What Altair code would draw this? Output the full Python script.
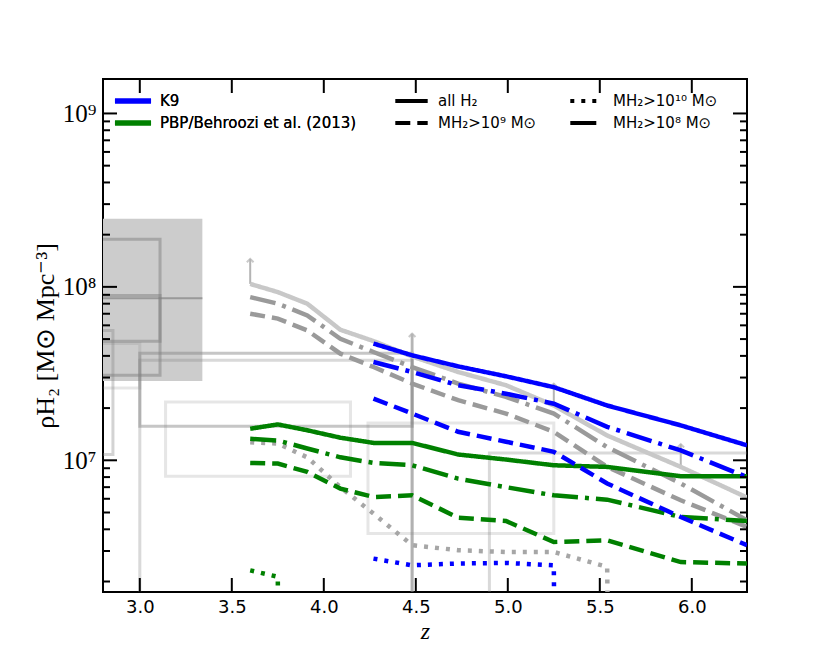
import altair as alt
import pandas as pd

# ---------------- axes ----------------
X_DOMAIN = [2.8, 6.3]
Y_DOMAIN = [1.74e6, 1.58e9]
X_TICKS = [3.0, 3.5, 4.0, 4.5, 5.0, 5.5, 6.0]
Y_MAJOR = [1e7, 1e8, 1e9]
Y_MINOR = [2e6, 3e6, 4e6, 5e6, 6e6, 7e6, 8e6, 9e6,
           2e7, 3e7, 4e7, 5e7, 6e7, 7e7, 8e7, 9e7,
           2e8, 3e8, 4e8, 5e8, 6e8, 7e8, 8e8, 9e8]

# ---------------- model lines ----------------
Z_SNAP = [3.60, 3.75, 3.91, 4.09, 4.27, 4.48, 4.73, 4.99, 5.25, 5.54, 5.94, 6.30]
Z_K9 = [4.27, 4.48, 4.73, 4.99, 5.25, 5.54, 5.94, 6.30]

K9_ALL = [4.71e7, 4.03e7, 3.48e7, 3.05e7, 2.64e7, 2.07e7, 1.59e7, 1.22e7]
K9_M8 = [3.69e7, 3.23e7, 2.71e7, 2.42e7, 2.12e7, 1.56e7, 1.14e7, 8.0e6]
K9_M9 = [2.27e7, 1.86e7, 1.46e7, 1.28e7, 1.12e7, 7.35e6, 4.71e6, 3.24e6]
K9_M10 = [2.71e6, 2.48e6, 2.54e6, 2.56e6, 2.48e6, 0.0, 0.0, 0.0]

PBP_ALL = [1.52e7, 1.61e7, 1.49e7, 1.35e7, 1.26e7, 1.26e7, 1.08e7, 1.01e7, 9.36e6, 9.16e6, 8.09e6, 8.09e6]
PBP_M8 = [1.33e7, 1.30e7, 1.17e7, 1.04e7, 9.66e6, 9.36e6, 7.84e6, 7.0e6, 6.28e6, 5.93e6, 4.71e6, 4.47e6]
PBP_M9 = [9.66e6, 9.57e6, 8.57e6, 6.87e6, 6.14e6, 6.28e6, 4.67e6, 4.47e6, 3.38e6, 3.46e6, 2.59e6, 2.54e6]
PBP_M10 = [2.32e6, 2.13e6, 0.0, 0.0, 0.0, 0.0, 0.0, 0.0, 0.0, 0.0, 0.0, 0.0]

GRAY_ALL = [1.04e8, 9.33e7, 8.0e7, 5.66e7, 4.87e7, 3.97e7, 3.23e7, 2.71e7, 2.07e7, 1.39e7, 9.16e6, 6.1e6]
GRAY_M8 = [8.73e7, 8.0e7, 6.85e7, 5.02e7, 4.21e7, 3.45e7, 2.77e7, 2.32e7, 1.86e7, 1.19e7, 7.35e6, 4.51e6]
GRAY_M9 = [7.0e7, 6.56e7, 5.61e7, 4.12e7, 3.45e7, 2.77e7, 2.22e7, 1.86e7, 1.46e7, 9.16e6, 5.88e6, 4.13e6]
GRAY_M10 = [1.27e7, 1.25e7, 1.04e7, 7.0e6, 4.93e6, 3.24e6, 3.03e6, 2.96e6, 2.96e6, 2.43e6, 0.0, 0.0]

# lower-limit arrows on the grey model
ARROW_Z = [3.60, 4.48, 5.25, 5.94]
ARROW_BASE = [1.04e8, 3.97e7, 2.07e7, 9.16e6]
ARROW_TIP = [1.45e8, 5.37e7, 2.77e7, 1.24e7]

# ---------------- observational boxes ----------------
FILL_Z1, FILL_Z2 = [2.60], [3.34]
FILL_LO, FILL_HI, FILL_MID = [2.87e7], [2.47e8], [8.6e7]

BOX_Z1 = [2.60, 2.60, 2.60, 2.60, 3.00, 3.00, 3.14, 4.24, 4.90]
BOX_Z2 = [3.11, 3.11, 2.854, 3.00, 4.48, 4.48, 4.145, 5.25, 6.50]
BOX_LO = [4.85e7, 3.09e7, 1.08e7, 2.61e7, 1.57e7, 1.0e6, 8.09e6, 3.78e6, 1.0e6]
BOX_HI = [1.88e8, 8.93e7, 5.6e7, 4.71e7, 4.14e7, 3.77e7, 2.17e7, 1.64e7, 1.10e7]
BOX_OP = [0.5, 0.5, 0.35, 0.2, 0.45, 0.3, 0.2, 0.2, 0.3]

VLINE_Z, VLINE_LO, VLINE_HI = [4.48], [1.0e6], [5.37e7]

# ---------------- labels ----------------
L_ALL = "all H₂"
L_M9 = "MH₂>10⁹ M⊙"
L_M10 = "MH₂>10¹⁰ M⊙"
L_M8 = "MH₂>10⁸ M⊙"
SEL_ORDER = [L_ALL, L_M9, L_M10, L_M8]
DASHES = [[1, 0], [15, 7], [4, 7], [26, 7, 4, 7]]
M_K9 = "K9"
M_PBP = "PBP/Behroozi et al. (2013)"

W, H = 644, 513

rows = []
def add(model, sel, shade, zs, vals):
    for i, (z, v) in enumerate(zip(zs, vals)):
        # like matplotlib's log-scale clipping of non-positive values
        rows.append(dict(model=model, sel=sel, shade=shade, z=z,
                         rho=v if v > 0 else 1e-30, i=i))
        if v <= 0:
            break

add(M_K9, L_ALL, "blue", Z_K9, K9_ALL)
add(M_K9, L_M8, "blue", Z_K9, K9_M8)
add(M_K9, L_M9, "blue", Z_K9, K9_M9)
add(M_K9, L_M10, "blue", Z_K9, K9_M10)
add(M_PBP, L_ALL, "green", Z_SNAP, PBP_ALL)
add(M_PBP, L_M8, "green", Z_SNAP, PBP_M8)
add(M_PBP, L_M9, "green", Z_SNAP, PBP_M9)
add(M_PBP, L_M10, "green", Z_SNAP, PBP_M10)
add("grey", L_ALL, "#c8c8c8", Z_SNAP, GRAY_ALL)
add("grey", L_M8, "#9a9a9a", Z_SNAP, GRAY_M8)
add("grey", L_M9, "#9a9a9a", Z_SNAP, GRAY_M9)
add("grey", L_M10, "#a6a6a6", Z_SNAP, GRAY_M10)
lines = pd.DataFrame(rows)

xs = alt.Scale(domain=X_DOMAIN, nice=False, zero=False)
ys = alt.Scale(type="log", domain=Y_DOMAIN, nice=False)

XA = alt.Axis(values=X_TICKS, format=".1f", ticks=False, domain=False, grid=False,
              labelFont="DejaVu Sans", labelFontSize=18, labelPadding=6, labelColor="black",
              title="z", titleFont="Liberation Serif", titleFontStyle="italic",
              titleFontSize=24, titleFontWeight="normal", titlePadding=3, titleColor="black")
YA = alt.Axis(values=Y_MAJOR, ticks=False, domain=False, grid=False,
              labelExpr="datum.value > 5e8 ? '10⁹' : datum.value > 5e7 ? '10⁸' : '10⁷'",
              labelFont="Liberation Serif", labelFontSize=25, labelPadding=7, labelColor="black",
              title="ρH₂ [M⊙ Mpc⁻³]", titleFont="Liberation Serif", titleFontSize=26,
              titleFontWeight="normal", titlePadding=4, titleColor="black")

def X(f):
    return alt.X(f, scale=xs, axis=XA)
def Y(f):
    return alt.Y(f, scale=ys, axis=YA)

fill_df = pd.DataFrame(dict(z1=FILL_Z1, z2=FILL_Z2, lo=FILL_LO, hi=FILL_HI, mid=FILL_MID))
fill = alt.Chart(fill_df).mark_rect(fill="#cccccc", clip=True).encode(
    x=X("z1:Q"), x2="z2:Q", y=Y("lo:Q"), y2="hi:Q")
fill_mid = alt.Chart(fill_df).mark_rule(color="#999999", strokeWidth=2, clip=True).encode(
    x=X("z1:Q"), x2="z2:Q", y=Y("mid:Q"))

box_df = pd.DataFrame(dict(z1=BOX_Z1, z2=BOX_Z2, lo=BOX_LO, hi=BOX_HI, op=BOX_OP))
boxes = alt.Chart(box_df).mark_rect(filled=False, stroke="#808080", strokeWidth=3, clip=True).encode(
    x=X("z1:Q"), x2="z2:Q", y=Y("lo:Q"), y2="hi:Q",
    strokeOpacity=alt.StrokeOpacity("op:Q", scale=None))

vline_df = pd.DataFrame(dict(z=VLINE_Z, lo=VLINE_LO, hi=VLINE_HI))
vline = alt.Chart(vline_df).mark_rule(color="#808080", opacity=0.45, strokeWidth=3, clip=True).encode(
    x=X("z:Q"), y=Y("lo:Q"), y2="hi:Q")

arrow_df = pd.DataFrame(dict(z=ARROW_Z, base=ARROW_BASE, tip=ARROW_TIP))
arrow_stem = alt.Chart(arrow_df).mark_rule(color="#b4b4b4", strokeWidth=2, clip=True).encode(
    x=X("z:Q"), y=Y("base:Q"), y2="tip:Q")
arrow_head = alt.Chart(arrow_df).mark_point(shape="M-1,1L0,0L1,1", size=45, filled=False,
                                            stroke="#b4b4b4", strokeWidth=2, clip=True).encode(
    x=X("z:Q"), y=Y("tip:Q"))

dash_enc = alt.StrokeDash("sel:N", scale=alt.Scale(domain=SEL_ORDER, range=DASHES),
                          legend=alt.Legend(orient="none", legendX=290, legendY=11, columns=2,
                                            columnPadding=31, rowPadding=0, padding=0,
                                            clipHeight=22,
                                            symbolType="stroke", symbolSize=1050,
                                            symbolStrokeWidth=4, symbolStrokeColor="black",
                                            labelFont="DejaVu Sans", labelFontSize=15,
                                            labelFontWeight="normal", labelLimit=400,
                                            labelColor="black", labelOffset=8, title=None))
color_enc = alt.Stroke("model:N", scale=alt.Scale(domain=[M_K9, M_PBP], range=["blue", "green"]),
                       legend=alt.Legend(orient="none", legendX=9, legendY=11, rowPadding=0, padding=0,
                                         clipHeight=22,
                                         symbolType="stroke", symbolSize=1300, symbolStrokeWidth=5,
                                         labelFont="DejaVu Sans", labelFontSize=15,
                                         labelFontWeight="normal", labelColor="black",
                                         labelLimit=400, labelOffset=6, title=None))

def line_layer(df, stroke):
    return alt.Chart(df).mark_line(strokeWidth=4.5, clip=True, strokeCap="butt").encode(
        x=X("z:Q"), y=Y("rho:Q"),
        order="i:Q", strokeDash=dash_enc, stroke=stroke)

gray_lines = line_layer(lines[lines.model == "grey"], alt.Stroke("shade:N", scale=None, legend=None))
green_lines = line_layer(lines[lines.model == M_PBP], color_enc)
blue_lines = line_layer(lines[lines.model == M_K9], color_enc)

# ticks (inward, all four sides)
xt = pd.DataFrame(dict(v=X_TICKS))
ymaj = pd.DataFrame(dict(v=Y_MAJOR))
ymin = pd.DataFrame(dict(v=Y_MINOR))
def xticks(y0, y1):
    return alt.Chart(xt).mark_rule(color="black", strokeWidth=2).encode(
        x=X("v:Q"), y=alt.value(y0), y2=alt.value(y1))
def yticks(df, x0, x1):
    return alt.Chart(df).mark_rule(color="black", strokeWidth=2, clip=True).encode(
        y=Y("v:Q"), x=alt.value(x0), x2=alt.value(x1))

ticks = [xticks(H, H - 14), xticks(0, 14),
         yticks(ymaj, 0, 14), yticks(ymaj, W, W - 14),
         yticks(ymin, 0, 7), yticks(ymin, W, W - 7)]

chart = alt.layer(fill, fill_mid, boxes, vline, arrow_stem, arrow_head,
                  gray_lines, green_lines, blue_lines, *ticks).resolve_scale(
    stroke="independent").properties(
    width=W, height=H, autosize="none",
    padding={"left": 95, "top": 71, "right": 70, "bottom": 60},
    background="white"
).configure_view(stroke="black", strokeWidth=2)

chart.save("out.html", embed_options={"renderer": "svg", "actions": False})
